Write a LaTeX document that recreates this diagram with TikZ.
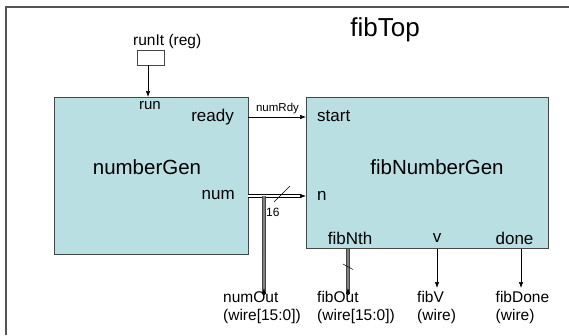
\documentclass[tikz,border=0pt]{standalone}
\usepackage{fontspec}
\setmainfont{Liberation Sans}
\usetikzlibrary{arrows.meta}
\definecolor{boxfill}{RGB}{185,223,227}
\definecolor{framec}{RGB}{85,85,85}
\definecolor{edgec}{RGB}{70,70,70}
\begin{document}
\begin{tikzpicture}[x=1pt,y=-1pt,
  module/.style={draw=edgec, fill=boxfill, line width=1pt, inner sep=0, anchor=north west},
  txt/.style={inner sep=0, font=\fontsize{17}{20}\selectfont},
  smalltxt/.style={inner sep=0, font=\fontsize{11.5}{13}\selectfont},
  modname/.style={inner sep=0, font=\fontsize{20.5}{24}\selectfont},
  outlbl/.style={inner sep=0, anchor=north west, align=left, font=\fontsize{15.5}{18.5}\selectfont},
  tipa/.style={-{Latex[length=6pt,width=4.5pt]}},
  wire/.style={draw=black, line width=0.6pt, tipa},
  busv/.style={draw=edgec, line width=0.7pt, double=gray, double distance=2.6pt},
  bush/.style={draw=black, line width=0.6pt, double=white, double distance=2pt},
  slashline/.style={draw=black, line width=0.5pt}
]
\useasboundingbox (0,0) rectangle (569,335);
% frame
\draw[framec, line width=2pt] (6,335) -- (6,7) -- (569,7);
\node[inner sep=0, font=\fontsize{26}{30}\selectfont] (title) at (385,30) {fibTop};

% runIt register
\node[draw=edgec, line width=0.7pt, minimum width=27pt, minimum height=15pt, inner sep=0] (reg) at (150.5,57.5) {};
\node[inner sep=0, anchor=west, font=\fontsize{15.5}{18}\selectfont] (reglbl) at (133,41) {runIt (reg)};

% modules
\node[module, minimum width=194pt, minimum height=157pt] (ng) at (54,97) {};
\node[module, minimum width=242pt, minimum height=151pt] (fng) at (306,97) {};

% numberGen texts
\node[inner sep=0, font=\fontsize{15}{18}\selectfont] (run) at (150,106) {run};
\node[txt, anchor=east] (ready) at (234,117) {ready};
\node[modname] (ngname) at (147,167) {numberGen};
\node[txt, anchor=east] (num) at (235,195) {num};

% fibNumberGen texts
\node[txt, anchor=west] (start) at (317,116) {start};
\node[modname] (fngname) at (437,167) {fibNumberGen};
\node[txt, anchor=west] (n) at (317,196) {n};
\node[txt] (fibnth) at (350,238) {fibNth};
\node[txt] (v) at (437,238) {v};
\node[txt] (done) at (514.5,238) {done};

% coordinates
\coordinate (runin) at (148,65);
\coordinate (rdy) at (248,117);
\coordinate (nb) at (248,196);
\coordinate (br) at (264,196);
\coordinate (ob) at (264,288);
\coordinate (fo) at (348,288);
\coordinate (vo) at (437,288);
\coordinate (dn) at (521,288);

% run input
\draw[wire] (runin) -- (runin |- ng.north);
% numRdy
\draw[wire] (rdy) -- (fng.west |- rdy);
\node[smalltxt] (numrdy) at (277.5,109) {numRdy};

% num bus
\draw[bush] (nb) -- ([xshift=-5pt]fng.west |- nb);
\draw[wire] ([xshift=-6pt]fng.west |- nb) -- (fng.west |- nb);
\draw[busv] (br) -- ([yshift=-5pt]ob);
\draw[wire] ([yshift=-6pt]ob) -- (ob);
\draw[slashline] (274,202) -- (290,186);
\node[inner sep=0, anchor=west, font=\fontsize{12}{14}\selectfont] (w16) at (266,212) {16};

% fibNth bus
\draw[busv] (fo |- fng.south) -- ([yshift=-5pt]fo);
\draw[wire] ([yshift=-6pt]fo) -- (fo);
\draw[slashline] (343,264) -- (353,269.5);

% v and done
\draw[wire] (vo |- fng.south) -- (vo);
\draw[wire] (dn |- fng.south) -- (dn);

% output labels
\node[outlbl] (numout) at (223,291) {numOut\\(wire[15:0])};
\node[outlbl] (fibout) at (317,291) {fibOut\\(wire[15:0])};
\node[outlbl] (fibv) at (417,291) {fibV\\(wire)};
\node[outlbl] (fibdone) at (495.5,291) {fibDone\\(wire)};
\end{tikzpicture}
\end{document}
